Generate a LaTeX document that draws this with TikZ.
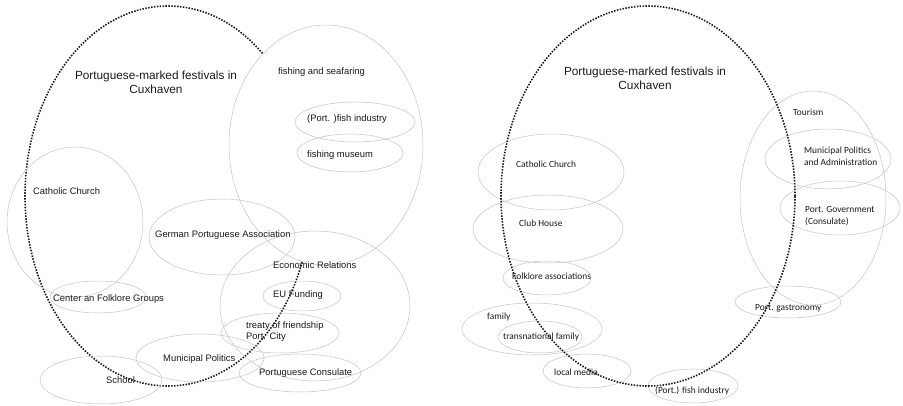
\documentclass[tikz,border=0pt]{standalone}
\usepackage{fontspec}
\setmainfont{Liberation Sans}
\newfontfamily\calfont{Carlito}
\usepackage{xcolor}
\usetikzlibrary{shapes.geometric}
\definecolor{venngray}{HTML}{C4C4C4}
\definecolor{ink}{HTML}{1A1A1A}
\tikzset{
  venn/.style={ellipse, draw=venngray, line width=0.5pt, inner sep=0pt},
  festring/.style={ellipse, draw=ink, line width=1.6pt,
                   dash pattern=on 1.5pt off 1.4pt, inner sep=0pt},
  lefttag/.style={anchor=west, inner sep=0pt, align=left, text=ink,
                  font=\fontsize{9.4}{11}\selectfont},
  righttag/.style={anchor=west, inner sep=0pt, align=left, text=ink,
                   font=\calfont\fontsize{9.4}{12}\selectfont},
  headline/.style={align=center, inner sep=0pt, text=ink,
                   font=\fontsize{11.8}{13.6}\selectfont}
}

\begin{document}
\begin{tikzpicture}[x=1pt,y=-1pt]
  \useasboundingbox (0,0) rectangle (903,406);

  % Left diagram: festivals ring, partly hidden by the fishing ellipse
  \node[festring, minimum width=286pt, minimum height=380pt] (festL) at (168,196) {};
  \node[venn, fill=white, minimum width=194pt, minimum height=240pt] (fishsea) at (326,145) {};
  \node[venn, minimum width=120pt, minimum height=40pt] (fishind) at (355,122) {};
  \node[venn, minimum width=106pt, minimum height=38pt] (museum) at (350,153) {};
  \node[venn, minimum width=136pt, minimum height=150pt] (churchL) at (75,222) {};
  \node[venn, minimum width=96pt, minimum height=32pt] (folkL) at (98,297) {};
  \node[venn, minimum width=146pt, minimum height=76pt] (gpa) at (222,237) {};
  \node[venn, minimum width=190pt, minimum height=150pt] (econ) at (315,306) {};
  \node[venn, minimum width=78pt, minimum height=30pt] (eufund) at (302,296) {};
  \node[venn, minimum width=118pt, minimum height=40pt] (treaty) at (280,333) {};
  \node[venn, minimum width=128pt, minimum height=48pt] (munL) at (200,358) {};
  \node[venn, minimum width=122pt, minimum height=38pt] (consul) at (300,373) {};
  \node[venn, minimum width=122pt, minimum height=48pt] (school) at (101,380) {};

  \node[headline] (titleL) at (156,82.5) {Portuguese-marked festivals in\\Cuxhaven};
  \node[lefttag] (fishseaT) at (278,72) {fishing and seafaring};
  \node[lefttag] (fishindT) at (307,119) {(Port. )fish industry};
  \node[lefttag] (museumT) at (307,155) {fishing museum};
  \node[lefttag] (churchLT) at (33,191) {Catholic Church};
  \node[lefttag] (gpaT) at (155,235) {German Portuguese Association};
  \node[lefttag] (econT) at (273,265) {Economic Relations};
  \node[lefttag] (eufundT) at (273,295) {EU Funding};
  \node[lefttag] (treatyT) at (246,332) {treaty of friendship\\Port. City};
  \node[lefttag] (folkLT) at (53,299) {Center an Folklore Groups};
  \node[lefttag] (munLT) at (163,359) {Municipal Politics};
  \node[lefttag] (consulT) at (259,373) {Portuguese Consulate};
  \node[lefttag] (schoolT) at (106,380) {School};

  % Right diagram
  \node[venn, minimum width=146pt, minimum height=76pt] (churchR) at (551,172) {};
  \node[venn, minimum width=150pt, minimum height=68pt] (club) at (548,229) {};
  \node[venn, minimum width=88pt, minimum height=34pt] (folkR) at (547,278) {};
  \node[venn, minimum width=140pt, minimum height=52pt] (family) at (532,329) {};
  \node[venn, minimum width=84pt, minimum height=32pt] (transfam) at (540,337) {};
  \node[venn, minimum width=88pt, minimum height=34pt] (media) at (587,371) {};
  \node[venn, minimum width=90pt, minimum height=34pt] (fishindR) at (693,386) {};
  \node[venn, minimum width=146pt, minimum height=214pt] (tourism) at (813,198) {};
  \node[venn, minimum width=126pt, minimum height=60pt] (munadmin) at (828,159) {};
  \node[venn, minimum width=120pt, minimum height=54pt] (portgov) at (840,208) {};
  \node[venn, minimum width=106pt, minimum height=32pt] (gastro) at (788,302) {};
  \node[festring, minimum width=294pt, minimum height=380pt] (festR) at (648,196) {};

  \node[headline] (titleR) at (645,78) {Portuguese-marked festivals in\\Cuxhaven};
  \node[righttag] (churchRT) at (516,164) {Catholic Church};
  \node[righttag] (clubT) at (519,223) {Club House};
  \node[righttag] (folkRT) at (512,276) {Folklore associations};
  \node[righttag] (familyT) at (487,317) {family};
  \node[righttag] (transfamT) at (503,337) {transnational family};
  \node[righttag] (mediaT) at (554,372) {local media};
  \node[righttag] (fishindRT) at (655,391) {(Port.) fish industry};
  \node[righttag] (tourismT) at (793,112) {Tourism};
  \node[righttag] (munadminT) at (804,156) {Municipal Politics\\and Administration};
  \node[righttag] (portgovT) at (805,216.5) {Port. Government\\(Consulate)};
  \node[righttag] (gastroT) at (755,308) {Port. gastronomy};
\end{tikzpicture}
\end{document}
